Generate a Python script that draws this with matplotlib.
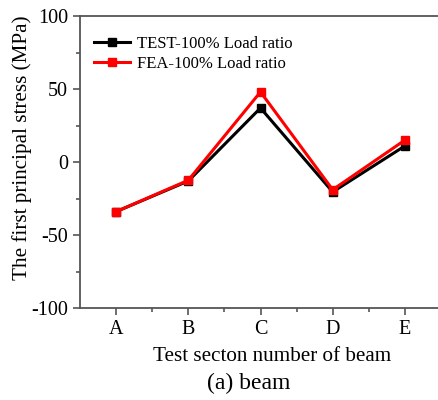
import matplotlib
matplotlib.use("Agg")
import matplotlib.pyplot as plt
from matplotlib.ticker import MultipleLocator, FixedLocator

plt.rcParams['font.family'] = ['Liberation Serif', 'DejaVu Serif']
plt.rcParams['axes.unicode_minus'] = False

sections = ['A', 'B', 'C', 'D', 'E']
test_vals = [-34, -13, 37, -20.5, 11]
fea_vals = [-34, -12.5, 48, -19, 15]

fig = plt.figure(figsize=(4.38, 4.00), dpi=100)
ax = fig.add_axes([80/438, 92/400, 361/438, 292/400])

x = list(range(len(sections)))
ax.plot(x, test_vals, color='black', lw=2.2, marker='s', ms=5.5, label='TEST-100% Load ratio', zorder=3)
ax.plot(x, fea_vals, color='#ff0000', lw=2.2, marker='s', ms=5.5, label='FEA-100% Load ratio', zorder=4)

ax.set_xlim(-0.5, 4.5)
ax.set_ylim(-100, 100)
ax.set_xticks(x)
ax.set_xticklabels(sections)
ax.xaxis.set_minor_locator(FixedLocator([0.5, 1.5, 2.5, 3.5]))
ax.yaxis.set_major_locator(MultipleLocator(50))
ax.yaxis.set_minor_locator(MultipleLocator(25))

spine_color = '#555555'
for s in ['left', 'bottom', 'top', 'right']:
    ax.spines[s].set_color(spine_color)
    ax.spines[s].set_linewidth(1.3)
ax.tick_params(which='both', direction='out', color=spine_color, width=1.2, labelsize=14.5, top=False, right=False)
ax.tick_params(which='major', length=5)
ax.tick_params(which='minor', length=3)

ax.set_ylabel('The first principal stress (MPa)', fontsize=15.2)
ax.yaxis.set_label_coords(-(80-32)/361, (308-148)/292)
ax.set_xlabel('Test secton number of beam', fontsize=15.2)
ax.xaxis.set_label_coords((272-80)/361, -(347-308)/292)
fig.text(249/438, 1-383/400, '(a) beam', fontsize=17, ha='center', va='center')

leg = ax.legend(loc='upper left', bbox_to_anchor=(0.01, 0.965), frameon=False, fontsize=12,
                handlelength=2.2, handletextpad=0.4, labelspacing=0.2, borderaxespad=0.2)

fig.savefig('out.png', dpi=100)
